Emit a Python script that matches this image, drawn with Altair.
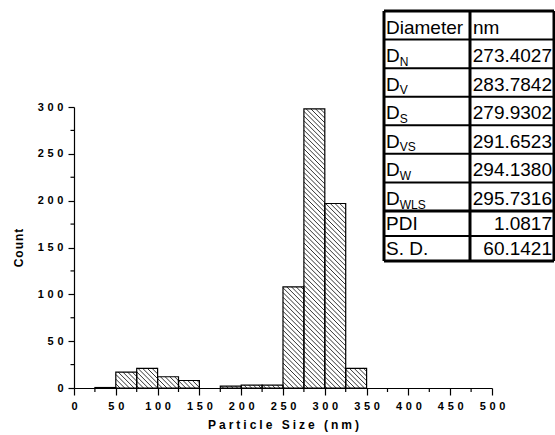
import altair as alt
import pandas as pd
import numpy as np

# ---------------- data ----------------
bin_start = [0, 25, 50, 75, 100, 125, 150, 175, 200, 225,
             250, 275, 300, 325, 350, 375, 400, 425, 450, 475]
counts = [0, 0.5, 17, 21, 12, 8, 0, 2, 3, 3,
          108, 298, 197, 21, 0, 0, 0, 0, 0, 0]
bin_width = 25

x_ticks = list(range(0, 501, 50))
x_minor = list(range(25, 500, 50))
y_ticks = list(range(0, 301, 50))
y_minor = list(range(25, 300, 50))

table_labels = ["Diameter", "D", "D", "D", "D", "D", "D", "PDI", "S. D."]
table_subs = ["", "N", "V", "S", "VS", "W", "WLS", "", ""]
table_values = ["nm", "273.4027", "283.7842", "279.9302", "291.6523",
                "294.1380", "295.7316", "1.0817", "60.1421"]

# ---------------- layout ----------------
W, H = 418, 281
PAD_L, PAD_T = 74, 107
X_MAX, Y_MAX = 500, 300
sx, sy = W / X_MAX, H / Y_MAX
FONT = "Liberation Sans"

bars = pd.DataFrame({"start": bin_start, "count": counts})
bars = bars[bars["count"] > 0].copy()
bars["end"] = bars["start"] + bin_width

# hatch lines (45 deg, "\" direction) derived from the bars
d = 4.7
hrows = []
for _, r in bars.iterrows():
    X0, X1 = r["start"] * sx, r["end"] * sx
    Ytop = H - r["count"] * sy
    for k in range(int((Ytop - X1) // d) - 1, int((H - X0) // d) + 2):
        c = k * d
        lo = max(X0, Ytop - c)
        hi = min(X1, H - c)
        if hi - lo > 0.3:
            hrows.append({"hx": lo / sx, "hy": (H - (lo + c)) / sy,
                          "hx2": hi / sx, "hy2": (H - (hi + c)) / sy})
hatch = pd.DataFrame(hrows)

xs = alt.Scale(domain=[0, X_MAX], nice=False, zero=False)
ys = alt.Scale(domain=[0, Y_MAX], nice=False)

spacer_lbl = "\u2004"
x_axis = alt.Axis(values=x_ticks, format="d", title="\u2005".join("Particle Size (nm)"),
                  labelExpr=f"join(split(datum.label, ''), '{spacer_lbl}')",
                  tickSize=7, labelPadding=5, titlePadding=8, labelFlush=False)
y_axis = alt.Axis(values=y_ticks, format="d", title="\u200a".join("Count"),
                  labelExpr=f"join(split(datum.label, ''), '{spacer_lbl}')",
                  tickSize=6, labelPadding=5, titlePadding=12)

fill_layer = alt.Chart(bars).mark_rect(fill="white", stroke=None).encode(
    x=alt.X("start:Q", scale=xs, axis=x_axis),
    x2="end:Q",
    y=alt.Y("count:Q", scale=ys, axis=y_axis),
    y2=alt.datum(0),
)

hatch_layer = alt.Chart(hatch).mark_rule(color="black", strokeWidth=0.8).encode(
    x=alt.X("hx:Q", scale=xs), x2="hx2:Q",
    y=alt.Y("hy:Q", scale=ys), y2="hy2:Q",
)

outline_layer = alt.Chart(bars).mark_rect(fill=None, stroke="black", strokeWidth=1.2).encode(
    x=alt.X("start:Q", scale=xs), x2="end:Q",
    y=alt.Y("count:Q", scale=ys), y2=alt.datum(0),
)

xminor_layer = alt.Chart(pd.DataFrame({"v": x_minor})).mark_rule(
    color="black", strokeWidth=1.2).encode(
    x=alt.X("v:Q", scale=xs), y=alt.value(H), y2=alt.value(H + 4))

yminor_layer = alt.Chart(pd.DataFrame({"v": y_minor})).mark_rule(
    color="black", strokeWidth=1.2).encode(
    y=alt.Y("v:Q", scale=ys), x=alt.value(0), x2=alt.value(-3.5))

# ---------------- table ----------------
T_L, T_M, T_R = 384, 470, 554
row_edges = [11] + [11 + (211 - 11) * i / 7 for i in range(1, 8)] + [236, 261]
n = len(table_labels)
tb = pd.DataFrame({
    "label": table_labels, "sub": table_subs, "value": table_values,
})
tb["bottom"] = [row_edges[i + 1] - PAD_T for i in range(n)]
tb["base"] = tb["bottom"] - 6
tb["lx"] = T_L + 2 - PAD_L
tb["subx"] = tb["lx"] + 0.722 * 19
tb["suby"] = tb["base"] + 3.5
tb["vx"] = [T_M + 3 - PAD_L if i == 0 else T_R - 2 - PAD_L for i in range(n)]
tb["valign"] = ["left" if i == 0 else "right" for i in range(n)]

hlines = pd.DataFrame({
    "y": [e - PAD_T for e in row_edges],
    "w": [3] + [2] * 6 + [3, 2, 3],
})
hlines["x"] = T_L - PAD_L
hlines["x2"] = T_R - PAD_L
vlines = pd.DataFrame({"x": [T_L - PAD_L, T_M - PAD_L, T_R - PAD_L], "w": [3, 3, 3]})
vlines["y"] = row_edges[0] - PAD_T
vlines["y2"] = row_edges[-1] - PAD_T

tab_h = alt.Chart(hlines).mark_rule(color="black").encode(
    x=alt.X("x:Q", scale=None), x2="x2:Q",
    y=alt.Y("y:Q", scale=None),
    strokeWidth=alt.StrokeWidth("w:Q", scale=None, legend=None))
tab_v = alt.Chart(vlines).mark_rule(color="black").encode(
    x=alt.X("x:Q", scale=None),
    y=alt.Y("y:Q", scale=None), y2="y2:Q",
    strokeWidth=alt.StrokeWidth("w:Q", scale=None, legend=None))

lab_txt = alt.Chart(tb).mark_text(align="left", baseline="alphabetic", font=FONT,
                                  fontSize=19, color="black").encode(
    x=alt.X("lx:Q", scale=None), y=alt.Y("base:Q", scale=None), text="label:N")
sub_txt = alt.Chart(tb).mark_text(align="left", baseline="alphabetic", font=FONT,
                                  fontSize=12, color="black").encode(
    x=alt.X("subx:Q", scale=None), y=alt.Y("suby:Q", scale=None), text="sub:N")
val_r = alt.Chart(tb[tb["valign"] == "right"]).mark_text(
    align="right", baseline="alphabetic", font=FONT, fontSize=19, color="black").encode(
    x=alt.X("vx:Q", scale=None), y=alt.Y("base:Q", scale=None), text="value:N")
val_l = alt.Chart(tb[tb["valign"] == "left"]).mark_text(
    align="left", baseline="alphabetic", font=FONT, fontSize=19, color="black").encode(
    x=alt.X("vx:Q", scale=None), y=alt.Y("base:Q", scale=None), text="value:N")

chart = alt.layer(
    fill_layer, hatch_layer, outline_layer, xminor_layer, yminor_layer,
    tab_h, tab_v, lab_txt, sub_txt, val_r, val_l,
).properties(
    width=W, height=H,
    autosize=alt.AutoSizeParams(type="none"),
    padding={"left": PAD_L, "top": PAD_T, "right": 555 - PAD_L - W, "bottom": 435 - PAD_T - H},
    background="white",
).configure_view(stroke=None).configure_axis(
    grid=False, domainColor="black", domainWidth=1.2, tickColor="black", tickWidth=1.2,
    labelFont=FONT, labelFontWeight="bold", labelFontSize=11, labelColor="black",
    titleFont=FONT, titleFontWeight="bold", titleFontSize=12, titleColor="black",
)

chart.save("out.html", embed_options={"renderer": "svg", "actions": False})
